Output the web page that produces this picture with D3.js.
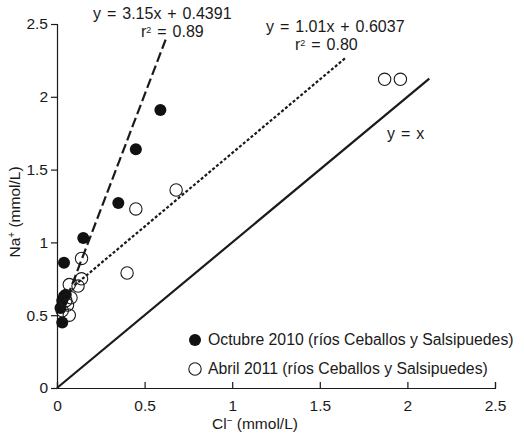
<!DOCTYPE html>
<html>
<head>
<meta charset="utf-8">
<script src="https://cdn.jsdelivr.net/npm/d3@7"></script>
<style>
  body { margin: 0; background: #fff; }
  text { font-family: "Liberation Sans", Arial, sans-serif; fill: #1a1a1a; }
</style>
</head>
<body>
<div class="canvas"></div>
<script>
// data
const octubreCl = [0.03, 0.02, 0.03, 0.04, 0.05, 0.04, 0.15, 0.35, 0.45, 0.59];
const octubreNa = [0.45, 0.55, 0.60, 0.63, 0.64, 0.86, 1.03, 1.27, 1.64, 1.91];
const abrilCl = [0.03, 0.07, 0.05, 0.06, 0.08, 0.07, 0.12, 0.14, 0.14, 0.40, 0.45, 0.68, 1.87, 1.96];
const abrilNa = [0.53, 0.50, 0.60, 0.57, 0.62, 0.71, 0.70, 0.75, 0.89, 0.79, 1.23, 1.36, 2.12, 2.12];
const xTicks = [0, 0.5, 1, 1.5, 2, 2.5];
const yTicks = [0, 0.5, 1, 1.5, 2, 2.5];
// fits: [slope, intercept, from, to]
const fitOct = [3.15, 0.4391, 0.03, 0.62];
const fitAbr = [1.01, 0.6037, 0.10, 1.644];
const identityEnd = 2.125;

const width = 524, height = 435;
const margin = {top: 24, right: 29, bottom: 47, left: 57};

const svg = d3.select(".canvas")
              .append("svg")
              .attr("width", width)
              .attr("height", height);

const x = d3.scaleLinear().domain([0, 2.5]).range([margin.left, width - margin.right]);
const y = d3.scaleLinear().domain([0, 2.5]).range([height - margin.bottom, margin.top]);

// axes
const xAxis = svg.append("g")
  .attr("transform", `translate(0,${y(0)})`)
  .call(d3.axisBottom(x).tickValues(xTicks).tickSize(-6).tickPadding(12).tickFormat(d3.format("")));
const yAxis = svg.append("g")
  .attr("transform", `translate(${x(0)},0)`)
  .call(d3.axisLeft(y).tickValues(yTicks).tickSize(6).tickPadding(3).tickFormat(d3.format("")));

[xAxis, yAxis].forEach(a => {
  a.select(".domain").attr("stroke", "#1a1a1a").attr("stroke-width", 1.2);
  a.selectAll(".tick line").attr("stroke", "#1a1a1a").attr("stroke-width", 1.2);
  a.selectAll(".tick text").style("font-size", "15.5px").attr("fill", "#1a1a1a")
   .style("font-family", "'Liberation Sans', Arial, sans-serif");
});

// reference & fit lines
const line = d3.line().x(d => x(d[0])).y(d => y(d[1]));
svg.append("path")
   .attr("d", line([[0, 0], [identityEnd, identityEnd]]))
   .attr("stroke", "#1a1a1a").attr("stroke-width", 2.2).attr("fill", "none");
svg.append("path")
   .attr("d", line([fitOct[2], fitOct[3]].map(v => [v, fitOct[0] * v + fitOct[1]])))
   .attr("stroke", "#1a1a1a").attr("stroke-width", 2.2).attr("fill", "none")
   .attr("stroke-dasharray", "10,4");
svg.append("path")
   .attr("d", line([fitAbr[2], fitAbr[3]].map(v => [v, fitAbr[0] * v + fitAbr[1]])))
   .attr("stroke", "#1a1a1a").attr("stroke-width", 2.2).attr("fill", "none")
   .attr("stroke-dasharray", "3,2");

// points
const octubre = octubreCl.map((c, i) => ({cl: c, na: octubreNa[i]}));
const abril = abrilCl.map((c, i) => ({cl: c, na: abrilNa[i]}));

svg.selectAll("circle.oct")
   .data(octubre)
   .enter()
   .append("circle")
   .attr("class", "oct")
   .attr("cx", d => x(d.cl))
   .attr("cy", d => y(d.na))
   .attr("r", 6)
   .attr("fill", "#111");

svg.selectAll("circle.abr")
   .data(abril)
   .enter()
   .append("circle")
   .attr("class", "abr")
   .attr("cx", d => x(d.cl))
   .attr("cy", d => y(d.na))
   .attr("r", 6.2)
   .attr("fill", "none")
   .attr("stroke", "#1a1a1a")
   .attr("stroke-width", 1.1);

// equations
const eq = svg.append("g").style("font-size", "16px").style("word-spacing", "1.5px");
eq.append("text").attr("x", 93).attr("y", 19).text("y = 3.15x + 0.4391");
eq.append("text").attr("x", 141).attr("y", 37).html("r<tspan dy='-4' font-size='9px'>2</tspan><tspan dy='4'> = 0.89</tspan>");
eq.append("text").attr("x", 266).attr("y", 32).text("y = 1.01x + 0.6037");
eq.append("text").attr("x", 295).attr("y", 50).html("r<tspan dy='-4' font-size='9px'>2</tspan><tspan dy='4'> = 0.80</tspan>");
eq.append("text").attr("x", 387).attr("y", 139).text("y = x");

// legend
const legend = svg.append("g").style("font-size", "15.8px");
legend.append("circle").attr("cx", 195).attr("cy", 340).attr("r", 6).attr("fill", "#111");
legend.append("text").attr("x", 208).attr("y", 345).text("Octubre 2010 (ríos Ceballos y Salsipuedes)");
legend.append("circle").attr("cx", 195).attr("cy", 369).attr("r", 6.2)
      .attr("fill", "none").attr("stroke", "#1a1a1a").attr("stroke-width", 1.1);
legend.append("text").attr("x", 208).attr("y", 374).text("Abril 2011 (ríos Ceballos y Salsipuedes)");

// axis titles
svg.append("text")
   .attr("x", x(1.13)).attr("y", 429)
   .attr("text-anchor", "middle").style("font-size", "15.5px")
   .html("Cl<tspan dy='-5' font-size='10px'>−</tspan><tspan dy='5'> (mmol/L)</tspan>");
svg.append("text")
   .attr("transform", `translate(20,212) rotate(-90)`)
   .attr("text-anchor", "middle").style("font-size", "15.5px")
   .html("Na<tspan dy='-5' font-size='10px'>+</tspan><tspan dy='5'> (mmol/L)</tspan>");
</script>
</body>
</html>
